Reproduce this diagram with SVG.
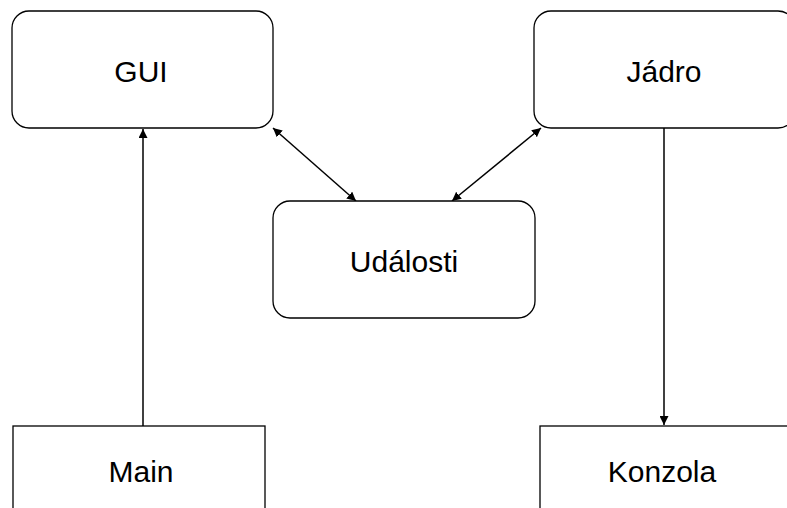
<svg xmlns="http://www.w3.org/2000/svg" width="787" height="508" viewBox="0 0 787 508">
<style>
.box{fill:#fff;stroke:#000;stroke-width:1.3}
.lbl{font-family:"Liberation Sans",Arial,sans-serif;font-size:30px;fill:#000;text-anchor:middle}
.edge{stroke:#000;stroke-width:1.5;fill:none}
</style>
<defs>
<marker id="ah" viewBox="0 0 10 10" refX="10" refY="5" markerWidth="9" markerHeight="9" markerUnits="userSpaceOnUse" orient="auto-start-reverse">
<path d="M0,0 L10,5 L0,10 z" fill="#000"/>
</marker>
</defs>
<rect width="787" height="508" fill="#fff"/>
<g id="connectors">
<line class="edge" x1="143" y1="426" x2="143" y2="129" marker-end="url(#ah)"/>
<line class="edge" x1="664" y1="128" x2="664" y2="425" marker-end="url(#ah)"/>
<line class="edge" x1="273" y1="128" x2="356" y2="201" marker-start="url(#ah)" marker-end="url(#ah)"/>
<line class="edge" x1="541" y1="128" x2="452" y2="201" marker-start="url(#ah)" marker-end="url(#ah)"/>
</g>
<g id="gui">
<rect class="box" x="12" y="11" width="261" height="117" rx="17"/>
<text class="lbl" x="141" y="82">GUI</text>
</g>
<g id="jadro">
<rect class="box" x="534" y="11" width="261" height="117" rx="17"/>
<text class="lbl" x="664" y="82">Jádro</text>
</g>
<g id="udalosti">
<rect class="box" x="273" y="201" width="262" height="117" rx="17"/>
<text class="lbl" x="404" y="272">Události</text>
</g>
<g id="main">
<rect class="box" x="13" y="426" width="252" height="100"/>
<text class="lbl" x="141" y="482">Main</text>
</g>
<g id="konzola">
<rect class="box" x="540" y="426" width="260" height="100"/>
<text class="lbl" x="662" y="482">Konzola</text>
</g>
</svg>
